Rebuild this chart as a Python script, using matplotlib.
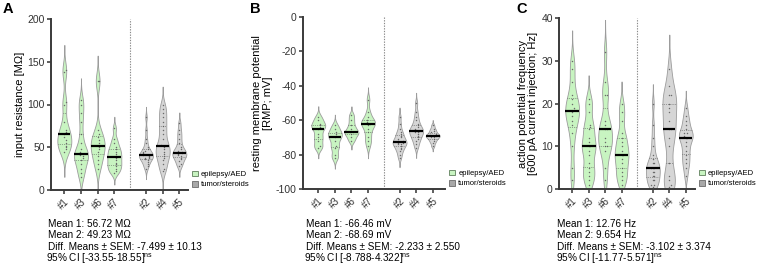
import numpy as np
import matplotlib
matplotlib.use("Agg")
import matplotlib.pyplot as plt
from matplotlib.patches import Patch

plt.rcParams['font.family'] = ['Liberation Sans', 'DejaVu Sans']
plt.rcParams['mathtext.fontset'] = 'custom'
plt.rcParams['mathtext.rm'] = 'Liberation Sans'
plt.rcParams['axes.unicode_minus'] = False

# patients, left four = epilepsy/AED, right three = tumor/steroids
patients = ['#1', '#3', '#6', '#7', '#2', '#4', '#5']
group_names = ['epilepsy/AED', 'tumor/steroids']
group_of = [0, 0, 0, 0, 1, 1, 1]

# A: input resistance [MOhm], values read per cell
rin_p1 = [140, 138, 103, 100, 80, 70, 68, 66, 62, 58, 55, 52, 50, 48, 45]
rin_p3 = [105, 100, 90, 80, 65, 55, 48, 44, 42, 41, 40, 38, 35, 30, 25, 20, 15]
rin_p6 = [128, 127, 70, 65, 62, 58, 55, 52, 50, 48, 45, 40, 35, 30, 25]
rin_p7 = [72, 60, 55, 50, 48, 45, 42, 40, 38, 35, 32, 30, 28, 25, 22, 20]
rin_p2 = [85, 70, 60, 55, 50, 48, 46, 44, 43, 42, 41, 41, 40, 39, 38, 37, 36,
          35, 33, 30, 28, 25]
rin_p4 = [100, 95, 90, 85, 80, 75, 70, 65, 60, 53, 52, 50, 48, 45, 42, 40, 38,
          35, 30, 25, 22]
rin_p5 = [78, 70, 65, 60, 55, 50, 48, 46, 44, 43, 42, 41, 40, 38, 36, 34, 30, 28]

# B: resting membrane potential [mV]
rmp_p1 = [-58, -60, -62, -63, -64, -65, -68, -70, -72, -75, -76]
rmp_p3 = [-63, -65, -67, -68, -69, -70, -72, -75, -76, -80, -82]
rmp_p6 = [-57, -60, -63, -65, -67, -67, -68, -70, -72]
rmp_p7 = [-48, -55, -58, -60, -61, -61.5, -62, -63, -65, -67, -70, -72, -75]
rmp_p2 = [-58, -62, -65, -67, -68, -69, -70, -71, -72, -72, -73, -73, -74, -74,
          -75, -76, -77, -78, -80, -82]
rmp_p4 = [-50, -55, -58, -60, -62, -63, -64, -65, -66, -66, -67, -67, -68, -69,
          -70, -71, -72, -74, -76]
rmp_p5 = [-63, -65, -66, -67, -68, -68.5, -69, -69, -70, -70, -71, -72, -73, -75]

# C: action potential frequency at 600 pA [Hz]
apf_p1 = [30, 28, 25, 22, 21, 20, 19, 18.5, 18, 17, 16, 15, 13, 10, 5, 2]
apf_p3 = [21, 20, 18, 15, 14.5, 14, 12, 11, 10, 10, 9, 8, 6, 5, 4, 3, 2, 1]
apf_p6 = [32, 25, 22, 22, 16, 15, 14, 14, 12, 11, 10, 10, 9, 5, 2]
apf_p7 = [20, 18, 16, 13, 12, 11, 10, 9, 8, 8, 7, 6, 5, 4, 3, 2, 1]
apf_p2 = [20, 15, 12, 10, 8, 7, 6, 6, 5, 5, 5, 4, 4, 3, 3, 2, 2, 1, 1, 0.5]
apf_p4 = [28, 24, 22, 22, 20, 19, 18, 16, 14, 14, 12, 10, 6, 3, 2, 1, 0.5]
apf_p5 = [19, 17, 16, 15, 14, 13, 13, 12.5, 12, 12, 11, 10, 9, 8, 7, 6, 5, 3]

stats_A = ['Mean 1: 56.72 M\u03a9', 'Mean 2: 49.23 M\u03a9',
           'Diff. Means \u00b1 SEM: -7.499 \u00b1 10.13',
           r'95% CI [-33.55-18.55]$^{\mathrm{ns}}$']
stats_B = ['Mean 1: -66.46 mV', 'Mean 2: -68.69 mV',
           'Diff. Means \u00b1 SEM: -2.233 \u00b1 2.550',
           r'95% CI [-8.788-4.322]$^{\mathrm{ns}}$']
stats_C = ['Mean 1: 12.76 Hz', 'Mean 2: 9.654 Hz',
           'Diff. Means \u00b1 SEM: -3.102 \u00b1 3.374',
           r'95% CI [-11.77-5.571]$^{\mathrm{ns}}$']

fill_cols = ['#c8f4c1', '#d6d6d6']
edge_col = '#9c9c9c'
legend_cols = ['#c8f4c1', '#a8a8a8']
xpos = [0, 1, 2, 3, 4.9, 5.9, 6.9]


def kde(vals, bw_scale=0.55, cut=3.0, lo=None):
    v = np.asarray(vals, float)
    bw = bw_scale * v.std(ddof=1) * len(v) ** (-0.2)
    a = v.min() - cut * bw
    if lo is not None:
        a = max(a, lo)
    grid = np.linspace(a, v.max() + cut * bw, 300)
    dens = np.exp(-0.5 * ((grid[:, None] - v[None, :]) / bw) ** 2).sum(1)
    return grid, dens / dens.max()


def swarm(vals, x0, yspan, dx=0.09):
    # simple greedy offsets so close points sit side by side
    v = np.sort(np.asarray(vals, float))
    tol = yspan * 0.018
    xs = []
    for i, y in enumerate(v):
        k = sum(1 for j in range(i) if abs(v[j] - y) < tol)
        off = ((k + 1) // 2) * dx * (1 if k % 2 else -1)
        xs.append(x0 + off)
    return np.array(xs), v


def panel(ax, data, ylim, yticks, ylabel, xlim, stats, tx, lo=None):
    yspan = ylim[1] - ylim[0]
    for i, vals in enumerate(data):
        g = group_of[i]
        x0 = xpos[i]
        grid, d = kde(vals, lo=lo)
        w = 0.42 * d
        ax.fill_betweenx(grid, x0 - w, x0 + w, facecolor=fill_cols[g],
                         edgecolor=edge_col, lw=0.6, zorder=2)
        q1, med, q3 = np.percentile(vals, [25, 50, 75])
        for q, lw, c in [(q1, 0.5, '#555555'), (q3, 0.5, '#555555'),
                         (med, 1.6, 'black')]:
            hw = np.interp(q, grid, w)
            ax.plot([x0 - hw, x0 + hw], [q, q], color=c, lw=lw, zorder=4,
                    ls=':' if c != 'black' else '-', solid_capstyle='butt')
        sx, sy = swarm(vals, x0, yspan)
        ax.scatter(sx, sy, s=1.1, color='#6a6a6a', lw=0, zorder=3)
    ax.axvline(3.95, color='#8a8a8a', ls=(0, (1.2, 1.2)), lw=0.8, zorder=1)
    ax.set_ylim(*ylim)
    ax.set_xlim(*xlim)
    ax.set_yticks(yticks)
    ax.set_xticks(xpos)
    ax.set_xticklabels(patients, rotation=45, ha='right',
                       rotation_mode='anchor', fontsize=7, color='#222222')
    ax.tick_params(axis='y', labelsize=7.5, length=3, width=1.1,
                   colors='#333333', pad=1.5)
    ax.tick_params(axis='x', length=3, width=1.1, colors='#333333', pad=2)
    for s in ['top', 'right']:
        ax.spines[s].set_visible(False)
    for s in ['left', 'bottom']:
        ax.spines[s].set_linewidth(1.4)
        ax.spines[s].set_color('#3a3a3a')
    ax.set_ylabel(ylabel, fontsize=8, labelpad=2, linespacing=1.1)
    handles = [Patch(facecolor=legend_cols[k], edgecolor='#5f7f5c' if k == 0 else '#6a6a6a',
                     lw=0.6, label=group_names[k]) for k in range(2)]
    ax.legend(handles=handles, loc='lower left', bbox_to_anchor=(1.02, 0.0),
              frameon=False, fontsize=5.5, handlelength=0.75,
              handleheight=0.75, handletextpad=0.4, borderaxespad=0.2,
              labelspacing=0.35, borderpad=0)
    for k, line in enumerate(stats):
        dx = -1.5 / 760 if '$' in line else 0
        fig.text(tx + dx, 1 - (224 + 11.5 * k) / 265, line, fontsize=7.2,
                 va='center', ha='left')


fig = plt.figure(figsize=(7.6, 2.65), dpi=100)
axA = fig.add_axes([51 / 760, 1 - 190 / 265, 137 / 760, 171 / 265])
axB = fig.add_axes([303 / 760, 1 - 189 / 265, 142 / 760, 172 / 265])
axC = fig.add_axes([559 / 760, 1 - 189 / 265, 136 / 760, 171 / 265])

panel(axA, [rin_p1, rin_p3, rin_p6, rin_p7, rin_p2, rin_p4, rin_p5],
      (0, 200), [0, 50, 100, 150, 200], 'input resistance [M\u03a9]',
      (-0.8, 7.42), stats_A, 48 / 760)
panel(axB, [rmp_p1, rmp_p3, rmp_p6, rmp_p7, rmp_p2, rmp_p4, rmp_p5],
      (-100, 0), [-100, -80, -60, -40, -20, 0],
      'resting membrane potential\n[RMP; mV]',
      (-0.92, 7.64), stats_B, 306 / 760)
panel(axC, [apf_p1, apf_p3, apf_p6, apf_p7, apf_p2, apf_p4, apf_p5],
      (0, 40), [0, 10, 20, 30, 40],
      'action potential frequency\n[600 pA current injection; Hz]',
      (-0.8, 7.46), stats_C, 557 / 760, lo=0)

for x, letter in [(3, 'A'), (250, 'B'), (516, 'C')]:
    fig.text(x / 760, 1 - 2 / 265, letter, fontsize=10.5, weight='bold',
             va='top', ha='left')

fig.savefig('out.png', dpi=100)
